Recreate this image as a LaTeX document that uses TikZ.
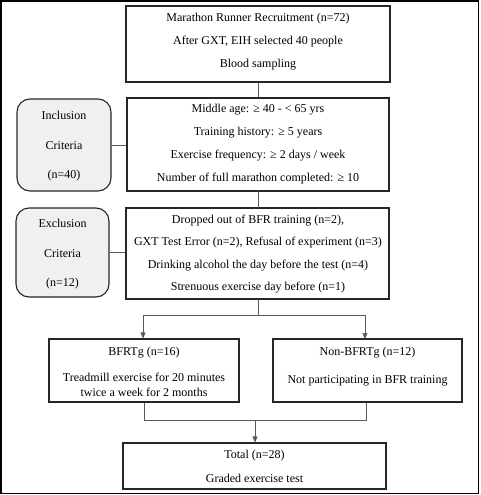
\documentclass[tikz,border=0pt]{standalone}
\usepackage{fontspec}
\setmainfont{Liberation Serif}
\usetikzlibrary{arrows.meta}
\begin{document}
\begin{tikzpicture}[x=1pt,y=-1pt,
  mainbox/.style={draw=black!85,line width=1.1pt,inner sep=0pt},
  critbox/.style={draw=black!85,line width=1.1pt,fill=black!6,rounded corners=13pt,inner sep=0pt},
  txt/.style={font=\fontsize{12}{14}\selectfont,inner sep=0pt,anchor=center},
  conn/.style={draw=black!65,line width=0.7pt},
  arr/.style={conn,-{Triangle[length=6pt,width=5pt]}}]
\useasboundingbox (0,0) rectangle (480,495);
\draw[line width=1.4pt] (1,1) rectangle (478.5,493.5);
% boxes
\node[mainbox,minimum width=264pt,minimum height=76pt] (top) at (258,44) {};
\node[mainbox,minimum width=262pt,minimum height=93pt] (inc) at (258,144.5) {};
\node[critbox,minimum width=94pt,minimum height=92pt] (incc) at (64,145) {};
\node[mainbox,minimum width=263pt,minimum height=91pt] (exc) at (257.5,253.5) {};
\node[critbox,minimum width=93pt,minimum height=89pt] (excc) at (62.5,252.5) {};
\node[mainbox,minimum width=190pt,minimum height=63pt] (bfr) at (144,370.5) {};
\node[mainbox,minimum width=189pt,minimum height=63pt] (non) at (367.5,370.5) {};
\node[mainbox,minimum width=263pt,minimum height=46pt] (tot) at (254.5,466) {};
% texts
\node[txt] (t1) at (258,18.5) {Marathon Runner Recruitment (n=72)};
\node[txt] (t2) at (258,42) {After GXT, EIH selected 40 people};
\node[txt] (t3) at (258,64.5) {Blood sampling};
\node[txt] (i1) at (258,109.5) {Middle age: ≥ 40 - < 65 yrs};
\node[txt] (i2) at (258,133) {Training history: ≥ 5 years};
\node[txt] (i3) at (258,156) {Exercise frequency: ≥ 2 days / week};
\node[txt] (i4) at (258,178.5) {Number of full marathon completed: ≥ 10};
\node[txt] (ic1) at (64,115.5) {Inclusion};
\node[txt] (ic2) at (64,145.5) {Criteria};
\node[txt] (ic3) at (64,176) {(n=40)};
\node[txt] (e1) at (258,221) {Dropped out of BFR training (n=2),};
\node[txt] (e2) at (258,243) {GXT Test Error (n=2), Refusal of experiment (n=3)};
\node[txt] (e3) at (258,266) {Drinking alcohol the day before the test (n=4)};
\node[txt] (e4) at (258,288) {Strenuous exercise day before (n=1)};
\node[txt] (ec1) at (62.5,223.5) {Exclusion};
\node[txt] (ec2) at (62.5,253.5) {Criteria};
\node[txt] (ec3) at (62.5,283.5) {(n=12)};
\node[txt] (b1) at (144,352.5) {BFRTg (n=16)};
\node[txt] (b2) at (144,377) {Treadmill exercise for 20 minutes};
\node[txt] (b3) at (144,392) {twice a week for 2 months};
\node[txt] (n1) at (367.5,352.5) {Non-BFRTg (n=12)};
\node[txt] (n2) at (367.5,381) {Not participating in BFR training};
\node[txt] (o1) at (254.5,455.5) {Total (n=28)};
\node[txt] (o2) at (254.5,478) {Graded exercise test};
% connectors
\coordinate (s1) at (258,315);
\coordinate (s2) at (255,420);
\draw[conn] (top.south) -- (top.south |- inc.north);
\draw[conn] (258,191) -- (258,208);
\draw[conn] (incc.east) -- (incc.east -| inc.west);
\draw[conn] (excc.east) -- (excc.east -| exc.west);
\draw[conn] (258,299) -- (s1);
\draw[arr] (s1) -| ([xshift=-1pt]bfr.north);
\draw[arr] (s1) -| (365,339);
\draw[conn] (bfr.south) |- (s2);
\draw[conn] (non.south -| 366,0) |- (s2);
\draw[arr] (s2) -- (s2 |- tot.north);
\end{tikzpicture}
\end{document}
